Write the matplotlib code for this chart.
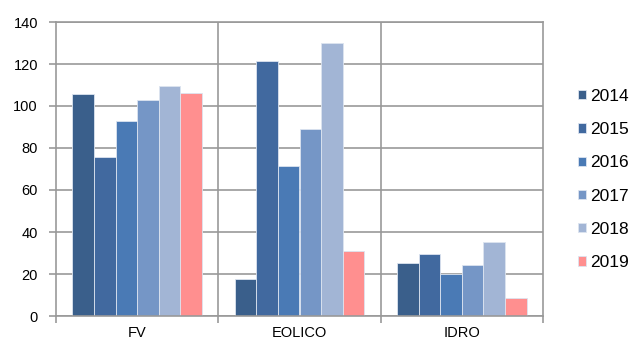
import matplotlib
matplotlib.use("Agg")
import matplotlib.pyplot as plt
import numpy as np

plt.rcParams['font.family'] = ['Liberation Sans', 'DejaVu Sans']

# dati
categorie = ["FV", "EOLICO", "IDRO"]
anni = ["2014", "2015", "2016", "2017", "2018", "2019"]
v2014 = [105.7, 17.7, 25.1]
v2015 = [75.7, 121.6, 29.7]
v2016 = [92.9, 71.4, 20.0]
v2017 = [102.7, 89.0, 24.1]
v2018 = [109.7, 130.0, 35.1]
v2019 = [106.0, 31.0, 8.6]
valori = [v2014, v2015, v2016, v2017, v2018, v2019]
colori = ["#3A5F8B", "#41699F", "#4A7AB5", "#7596C6", "#A2B5D5", "#FF8F8F"]

fig = plt.figure(figsize=(6.3, 3.42), dpi=100)
ax = fig.add_axes([56 / 630, 1 - 316 / 342, (543 - 56) / 630, (316 - 22) / 342])

x = np.arange(len(categorie))
larg = 0.8 / len(anni)
for i, (anno, vals) in enumerate(zip(anni, valori)):
    pos = x - 0.4 + larg * (i + 0.5)
    ax.bar(pos, vals, width=larg, color=colori[i], edgecolor="#DCE4F0",
           linewidth=0.6, label=anno, zorder=2)

grigio = "#999999"
ax.set_ylim(0, 140)
ax.set_yticks(range(0, 141, 20))
ax.set_xlim(-0.5, 2.5)
ax.yaxis.grid(True, color=grigio, linewidth=1.2, zorder=0)
# separatori tra categorie
for s in [0.5, 1.5]:
    ax.axvline(s, color=grigio, linewidth=1.2, zorder=1)
ax.set_xticks([-0.5, 0.5, 1.5, 2.5], minor=False)
ax.set_xticklabels([])
ax.set_xticks(x, minor=True)
ax.set_xticklabels(categorie, minor=True)
ax.tick_params(axis="x", which="minor", length=0, labelsize=10.5, pad=7)
ax.tick_params(axis="x", which="major", length=5, color=grigio, width=1.2)
ax.tick_params(axis="y", length=5, color=grigio, width=1.2, labelsize=10.5, pad=8)
for sp in ax.spines.values():
    sp.set_color(grigio)
    sp.set_linewidth(1.2)

fig.legend(loc="center left", bbox_to_anchor=(0.918, 0.475), frameon=False,
           fontsize=12.5, handlelength=0.45, handleheight=0.45, handletextpad=0.25,
           labelspacing=1.05, borderaxespad=0, borderpad=0)

fig.savefig("out.png", dpi=100)
